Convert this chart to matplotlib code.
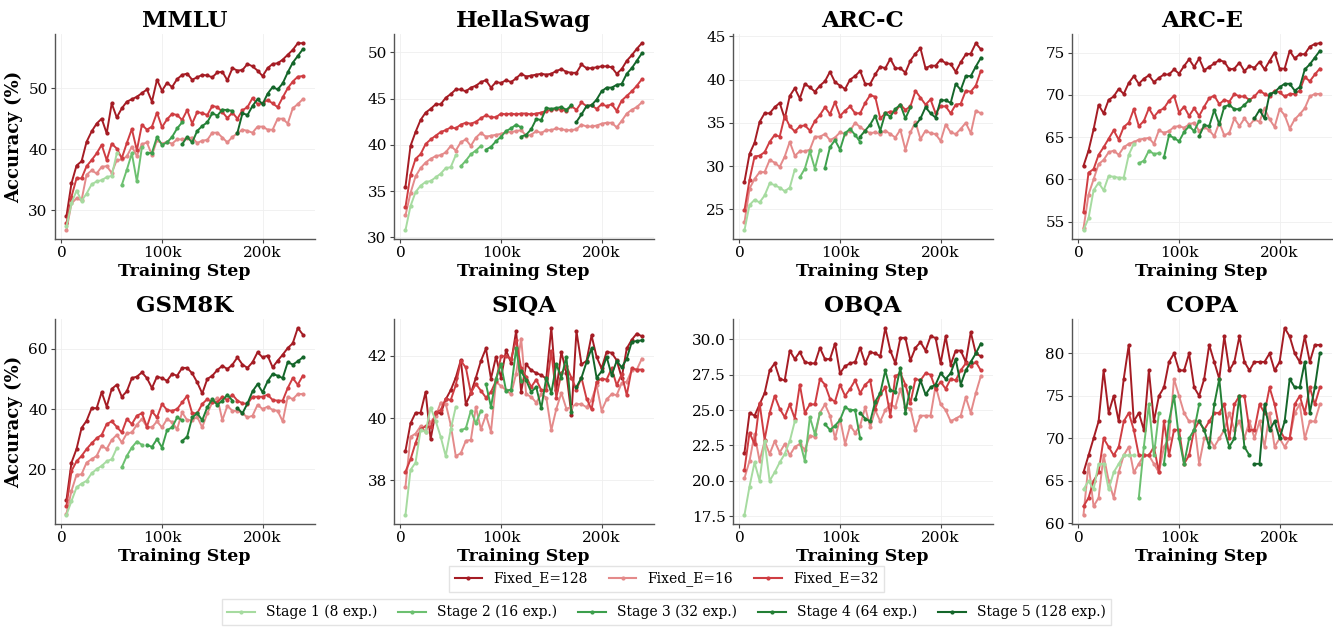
import matplotlib
matplotlib.use("Agg")
import matplotlib.pyplot as plt
from matplotlib.ticker import FuncFormatter
from matplotlib.lines import Line2D

plt.rcParams["font.family"] = ["DejaVu Serif"]

# training steps
fixed_steps = list(range(5000, 240001, 5000))
s1_steps = list(range(5000, 55001, 5000))
s2_steps = list(range(60000, 80001, 5000))
s3_steps = list(range(85000, 120001, 5000))
s4_steps = list(range(120000, 170001, 5000))
s5_steps = list(range(175000, 240001, 5000))

# MMLU
mmlu_e128 = [29.0, 34.4, 37.3, 38.0, 41.2, 42.9, 44.2, 45.0, 42.6, 47.5, 45.2, 46.7, 47.8, 48.2, 48.6, 49.2,
             49.8, 47.8, 51.4, 49.6, 50.9, 50.2, 51.5, 52.2, 52.4, 51.4, 51.8, 52.2, 52.1, 51.8, 52.6, 52.7,
             51.3, 53.3, 52.9, 53.0, 54.0, 53.6, 52.9, 52.0, 53.3, 54.0, 54.1, 54.7, 55.5, 56.3, 57.4, 57.4]
mmlu_e16 = [26.7, 31.1, 31.9, 31.6, 35.8, 36.5, 36.0, 37.1, 37.2, 36.1, 38.2, 38.3, 38.8, 40.4, 38.9, 40.8,
            41.1, 39.0, 41.5, 40.9, 41.2, 40.9, 41.6, 41.6, 41.8, 41.9, 41.0, 41.4, 41.5, 42.7, 42.7, 41.9,
            41.1, 42.0, 42.6, 43.2, 43.0, 42.7, 43.7, 43.7, 43.2, 43.2, 45.0, 45.0, 44.2, 46.7, 47.4, 48.2]
mmlu_e32 = [27.8, 32.2, 35.2, 35.2, 37.2, 38.2, 39.3, 40.7, 38.2, 40.9, 40.1, 38.5, 41.0, 43.3, 39.8, 44.0,
            43.2, 43.7, 46.0, 43.6, 44.9, 45.8, 45.6, 44.8, 46.4, 44.2, 46.1, 45.9, 45.6, 47.1, 46.9, 46.1,
            45.1, 46.0, 45.0, 46.4, 46.9, 48.4, 47.4, 47.5, 48.1, 47.5, 46.9, 48.5, 50.0, 51.1, 51.9, 52.0]
mmlu_s1 = [27.3, 31.1, 33.2, 31.5, 32.7, 34.2, 34.7, 34.9, 35.4, 35.6, 39.3]
mmlu_s2 = [34.1, 36.6, 39.3, 34.7, 40.3]
mmlu_s3 = [39.3, 39.4, 42.0, 40.7, 41.1, 42.0, 43.4, 44.4]
mmlu_s4 = [40.8, 42.0, 41.1, 43.0, 43.8, 44.4, 45.9, 45.5, 46.5, 46.4, 46.3]
mmlu_s5 = [42.7, 45.9, 45.6, 47.1, 48.2, 47.4, 49.1, 50.2, 49.8, 50.8, 52.6, 54.2, 55.3, 56.4]
mmlu_yticks = [30, 40, 50]

# HellaSwag
hs_e128 = [35.5, 39.9, 41.4, 42.7, 43.5, 43.9, 44.4, 44.4, 45.1, 45.5, 46.0, 46.0, 45.8, 46.2, 46.4, 46.8,
           47.0, 46.2, 46.8, 46.7, 47.0, 46.8, 47.2, 47.7, 47.4, 47.5, 47.6, 47.7, 47.6, 47.7, 48.0, 48.2,
           47.9, 47.8, 47.8, 48.7, 48.3, 48.3, 48.4, 48.5, 48.5, 48.4, 47.7, 48.2, 49.1, 49.7, 50.4, 51.0]
hs_e16 = [32.4, 34.8, 36.6, 37.5, 38.1, 38.5, 38.8, 38.9, 39.2, 39.9, 39.4, 40.3, 40.6, 39.9, 40.8, 41.3,
          40.9, 41.0, 41.1, 41.2, 41.4, 41.4, 41.5, 41.6, 41.0, 41.1, 41.5, 41.3, 41.6, 41.6, 41.8, 41.7,
          41.6, 41.6, 41.7, 42.2, 42.0, 42.0, 42.1, 42.3, 42.4, 42.4, 41.9, 42.6, 43.4, 43.8, 44.1, 44.6]
hs_e32 = [33.3, 36.8, 38.5, 39.0, 40.1, 40.6, 41.0, 41.4, 41.6, 41.9, 41.8, 42.2, 42.4, 42.3, 42.5, 42.9,
          43.2, 43.0, 43.0, 43.4, 43.3, 43.4, 43.3, 43.4, 43.4, 43.3, 43.4, 43.5, 43.7, 43.8, 43.9, 43.8,
          43.7, 44.2, 43.8, 44.6, 44.2, 44.3, 43.9, 44.4, 44.2, 44.4, 43.7, 44.8, 45.3, 45.8, 46.4, 47.1]
hs_s1 = [30.8, 33.4, 34.9, 35.6, 36.0, 36.1, 36.5, 36.9, 37.5, 37.6, 38.9]
hs_s2 = [37.7, 38.3, 39.0, 39.4, 39.9]
hs_s3 = [39.5, 39.8, 40.4, 40.9, 41.5, 41.8, 42.2, 41.9]
hs_s4 = [40.9, 41.1, 41.7, 42.8, 42.7, 44.0, 43.9, 44.0, 44.1, 43.8, 44.3]
hs_s5 = [42.5, 43.3, 44.2, 44.3, 44.9, 45.8, 46.2, 46.2, 46.5, 46.6, 47.7, 48.3, 49.1, 49.9]
hs_yticks = [30, 35, 40, 45, 50]

# ARC-C
arcc_e128 = [28.2, 31.4, 32.7, 35.1, 36.1, 36.1, 36.8, 37.3, 35.5, 38.1, 39.0, 37.8, 39.5, 39.1, 38.6, 39.3,
             39.8, 40.9, 39.7, 39.3, 38.9, 40.0, 40.4, 41.0, 39.5, 39.5, 40.6, 41.5, 41.3, 42.4, 41.3, 41.3,
             40.8, 42.2, 43.0, 43.6, 41.3, 41.6, 41.6, 42.3, 41.9, 41.8, 40.9, 42.0, 42.9, 43.0, 44.2, 43.5]
arcc_e16 = [23.5, 27.4, 28.5, 29.3, 29.3, 30.7, 30.4, 29.9, 31.1, 32.8, 31.2, 31.7, 31.7, 31.9, 33.4, 33.4,
            33.7, 33.0, 33.3, 33.9, 33.7, 34.1, 35.0, 34.5, 34.1, 33.8, 33.9, 33.7, 34.1, 33.7, 33.3, 34.2,
            31.9, 33.9, 35.1, 33.1, 34.1, 33.8, 33.7, 32.9, 34.8, 33.9, 33.7, 34.3, 35.0, 33.8, 36.4, 36.1]
arcc_e32 = [24.9, 28.4, 31.1, 31.2, 31.6, 32.8, 33.6, 33.4, 35.8, 34.6, 34.0, 34.6, 34.7, 34.1, 35.2, 35.9,
            36.8, 36.0, 37.4, 35.8, 36.4, 36.9, 36.1, 36.1, 37.3, 38.2, 38.0, 35.5, 36.1, 36.3, 36.3, 37.1,
            36.5, 36.9, 38.7, 37.9, 37.1, 37.7, 36.1, 36.9, 36.9, 36.1, 37.1, 37.2, 38.7, 38.6, 39.3, 41.0]
arcc_s1 = [22.6, 25.5, 26.1, 25.8, 26.6, 28.0, 27.8, 27.5, 27.1, 27.5, 29.6]
arcc_s2 = [28.7, 29.7, 31.7, 29.7, 31.9]
arcc_s3 = [29.8, 32.2, 33.0, 31.9, 33.8, 34.3, 33.6, 32.8]
arcc_s4 = [33.4, 34.1, 34.8, 35.8, 34.1, 36.1, 35.7, 36.6, 37.1, 35.5, 36.8]
arcc_s5 = [34.7, 35.5, 36.8, 36.1, 35.6, 37.6, 37.6, 37.3, 39.5, 38.8, 40.4, 40.4, 41.5, 42.5]
arcc_yticks = [25, 30, 35, 40, 45]

# ARC-E
arce_e128 = [61.6, 63.4, 65.9, 68.8, 67.8, 69.4, 69.8, 70.7, 70.1, 71.4, 72.2, 71.3, 71.9, 72.3, 71.5, 72.0,
             72.4, 72.4, 73.0, 72.5, 73.4, 74.2, 73.3, 74.3, 72.9, 73.3, 73.7, 74.1, 73.9, 73.0, 73.1, 73.8,
             72.8, 73.4, 73.2, 73.9, 73.0, 74.0, 75.0, 73.1, 73.1, 75.2, 74.3, 74.8, 74.8, 75.7, 76.0, 76.1]
arce_e16 = [54.2, 58.2, 60.0, 61.8, 62.3, 63.2, 63.4, 62.9, 63.8, 64.2, 64.4, 64.7, 64.8, 64.9, 64.2, 65.8,
            65.5, 65.7, 66.2, 66.3, 66.1, 66.5, 66.7, 65.7, 66.2, 65.8, 65.1, 66.7, 65.2, 65.5, 67.2, 66.3,
            67.2, 66.4, 67.1, 66.8, 68.4, 67.1, 66.2, 68.3, 67.6, 66.0, 67.1, 67.7, 68.4, 69.8, 70.1, 70.1]
arce_e32 = [56.1, 60.8, 61.2, 62.9, 63.8, 64.8, 65.8, 64.7, 66.2, 66.7, 68.3, 66.3, 66.9, 68.4, 67.4, 68.1,
            68.4, 69.3, 69.9, 67.9, 68.6, 67.5, 68.4, 67.5, 68.6, 69.6, 69.9, 68.9, 69.4, 69.2, 70.1, 69.8,
            69.8, 69.4, 69.8, 70.5, 70.1, 69.8, 70.5, 70.3, 69.8, 70.1, 70.1, 70.5, 72.1, 71.6, 72.4, 73.1]
arce_s1 = [54.0, 55.4, 58.7, 59.6, 58.7, 60.4, 60.3, 60.2, 60.2, 62.9, 64.2]
arce_s2 = [61.9, 62.2, 63.4, 63.0, 63.1]
arce_s3 = [62.6, 65.2, 64.9, 64.5, 65.6, 66.3, 65.7, 66.9]
arce_s4 = [65.1, 66.4, 66.3, 68.2, 66.5, 68.6, 68.8, 68.3, 68.3, 68.8, 69.4]
arce_s5 = [67.2, 68.2, 67.2, 70.1, 70.3, 70.9, 71.3, 71.3, 70.5, 70.9, 73.0, 73.6, 74.4, 75.2]
arce_yticks = [55, 60, 65, 70, 75]

# GSM8K
gsm_e128 = [9.7, 22.2, 26.7, 33.7, 36.1, 40.3, 40.3, 45.6, 40.8, 46.7, 48.1, 44.1, 45.9, 50.3, 50.8, 52.2,
            50.3, 47.0, 50.8, 50.3, 49.4, 51.7, 51.1, 53.7, 53.7, 51.9, 48.9, 45.2, 50.0, 51.1, 53.0, 54.4,
            53.3, 54.8, 57.2, 54.8, 53.7, 55.6, 58.9, 57.2, 57.8, 53.9, 56.1, 58.1, 60.3, 61.9, 67.0, 64.8]
gsm_e16 = [5.2, 12.8, 18.1, 18.3, 22.2, 23.3, 24.4, 27.8, 26.7, 29.7, 31.4, 28.9, 31.9, 32.2, 34.8, 36.7,
           34.1, 33.9, 35.9, 33.9, 36.7, 35.6, 33.3, 38.9, 36.3, 36.3, 37.4, 33.9, 38.6, 42.2, 43.7, 36.3,
           41.1, 39.4, 39.4, 38.6, 37.2, 37.8, 41.4, 40.0, 40.8, 39.7, 39.4, 35.9, 44.1, 43.3, 45.0, 45.0]
gsm_e32 = [7.8, 19.4, 22.6, 24.4, 26.7, 28.6, 30.3, 31.4, 35.0, 35.9, 34.1, 32.2, 36.7, 35.0, 37.8, 38.6,
           34.1, 39.2, 37.2, 41.7, 39.7, 39.4, 40.0, 42.2, 44.4, 38.6, 38.6, 41.7, 43.3, 42.2, 42.2, 44.1,
           43.0, 44.8, 42.8, 41.9, 41.7, 44.1, 44.1, 44.1, 44.8, 43.0, 42.8, 42.8, 47.0, 50.3, 48.1, 51.1]
gsm_s1 = [4.8, 9.4, 13.9, 15.2, 16.1, 18.6, 20.0, 21.1, 22.6, 23.3, 27.0]
gsm_s2 = [20.6, 24.4, 27.2, 29.2, 28.1]
gsm_s3 = [28.1, 27.4, 30.0, 27.2, 33.0, 33.9, 37.2, 36.3]
gsm_s4 = [29.4, 30.8, 37.2, 38.6, 36.3, 40.6, 43.3, 41.4, 42.8, 44.8, 42.8]
gsm_s5 = [40.3, 38.6, 41.9, 45.9, 48.3, 45.6, 49.2, 51.7, 51.1, 50.3, 55.6, 54.8, 55.9, 57.2]
gsm_yticks = [20, 40, 60]

# SIQA
siqa_e128 = [38.95, 39.83, 40.17, 40.17, 40.84, 39.32, 40.2, 40.15, 40.6, 40.9, 41.3, 41.86, 40.45, 40.8,
             41.3, 41.84, 42.24, 41.27, 41.97, 41.3, 42.18, 41.78, 42.8, 40.84, 41.73, 41.54, 41.45, 41.38,
             41.27, 42.9, 40.9, 42.13, 41.45, 40.1, 42.8, 41.73, 41.84, 42.66, 41.97, 41.6, 42.13, 42.1,
             41.86, 41.3, 42.24, 42.52, 42.72, 42.63]
siqa_e16 = [37.8, 39.4, 39.5, 39.74, 39.56, 39.88, 40.06, 40.5, 40.47, 39.78, 38.78, 38.87, 39.27, 39.3,
            40.36, 39.64, 40.1, 39.56, 41.17, 41.03, 40.9, 40.77, 41.43, 42.56, 40.77, 40.68, 40.5, 40.77,
            40.66, 39.61, 40.3, 40.81, 40.3, 40.36, 40.45, 40.45, 40.35, 40.58, 41.06, 40.24, 40.6, 40.77,
            40.74, 41.13, 41.17, 41.54, 41.56, 41.91]
siqa_e32 = [38.28, 38.67, 39.2, 39.64, 39.74, 39.7, 40.17, 40.26, 40.63, 40.58, 41.06, 41.84, 41.63, 40.81,
            41.1, 40.88, 40.66, 40.84, 41.2, 41.99, 41.99, 41.9, 42.52, 41.6, 41.33, 41.0, 41.24, 40.9, 40.9,
            42.16, 40.66, 41.45, 41.67, 41.3, 40.92, 41.3, 40.63, 40.28, 41.17, 41.27, 41.24, 41.6, 41.06,
            41.41, 40.74, 41.6, 41.56, 41.56]
siqa_s1 = [36.89, 38.33, 38.57, 39.61, 39.56, 40.34, 39.91, 39.4, 38.78, 39.64, 40.36]
siqa_s2 = [39.61, 39.67, 40.24, 39.83, 40.24]
siqa_s3 = [41.1, 40.36, 41.27, 41.73, 40.88, 40.92, 42.24, 41.2]
siqa_s4 = [41.5, 41.22, 40.84, 41.0, 40.31, 41.3, 40.81, 41.73, 41.3, 41.97, 40.2]
siqa_s5 = [41.0, 41.3, 41.8, 42.24, 41.3, 41.5, 41.97, 41.38, 41.84, 41.63, 41.91, 42.45, 42.48, 42.5]
siqa_yticks = [38, 40, 42]

# OBQA
obqa_e128 = [22.0, 24.8, 24.6, 25.4, 26.2, 27.8, 28.3, 27.2, 27.1, 29.2, 28.6, 29.1, 28.4, 28.3, 28.3, 29.4,
             28.6, 28.6, 29.7, 27.6, 28.1, 28.3, 28.4, 29.4, 28.3, 29.1, 29.0, 28.8, 30.8, 29.2, 28.3, 30.1,
             30.1, 28.5, 29.4, 29.8, 29.2, 30.2, 30.1, 28.3, 30.2, 28.2, 29.2, 29.2, 28.4, 30.5, 29.0, 28.8]
obqa_e16 = [20.2, 21.4, 23.3, 21.4, 22.8, 21.9, 22.8, 22.0, 22.6, 21.8, 22.4, 22.6, 22.2, 23.2, 23.1, 24.8,
            25.4, 24.6, 23.0, 24.4, 22.6, 23.9, 23.4, 23.9, 25.2, 23.8, 25.0, 24.2, 25.0, 25.4, 25.2, 26.5,
            25.2, 25.1, 23.6, 24.6, 24.6, 24.6, 26.7, 25.4, 25.0, 24.2, 24.4, 24.6, 25.9, 24.8, 26.2, 27.4]
obqa_e32 = [20.8, 23.4, 22.6, 25.5, 22.9, 24.8, 26.0, 25.1, 24.5, 25.4, 24.4, 26.8, 24.8, 25.4, 25.4, 27.2,
            26.8, 25.8, 25.6, 26.8, 26.0, 26.5, 27.1, 26.2, 26.8, 27.1, 25.1, 26.1, 26.6, 24.6, 27.4, 27.6,
            26.8, 25.5, 27.2, 27.1, 27.6, 27.5, 26.5, 27.0, 26.5, 27.2, 27.1, 27.8, 28.3, 28.1, 28.4, 27.8]
obqa_s1 = [17.6, 19.6, 21.3, 20.0, 22.8, 20.0, 20.6, 21.3, 21.9, 22.8, 24.2]
obqa_s2 = [22.8, 21.4, 24.5, 23.3, 24.8]
obqa_s3 = [24.0, 23.6, 23.9, 24.3, 25.2, 25.0, 25.0, 23.0]
obqa_s4 = [24.8, 24.4, 24.2, 25.6, 26.2, 27.8, 26.4, 26.3, 28.0, 24.8, 26.6]
obqa_s5 = [25.8, 27.1, 26.1, 26.6, 26.8, 27.6, 27.2, 27.6, 28.6, 26.8, 27.8, 28.4, 29.0, 29.7]
obqa_yticks = [17.5, 20.0, 22.5, 25.0, 27.5, 30.0]

# COPA
copa_e128 = [66, 68, 70, 72, 78, 73, 75, 72, 77, 81, 72, 73, 71, 78, 72, 75, 76, 79, 80, 78, 78, 80, 76, 75,
             77, 81, 79, 77, 82, 78, 79, 82, 79, 78, 79, 79, 79, 80, 78, 79, 83, 82, 80, 79, 82, 79, 81, 81]
copa_e16 = [61, 67, 62, 63, 68, 65, 63, 66, 68, 69, 66, 67, 68, 68, 67, 66, 69, 70, 77, 75, 73, 72, 72, 67,
            70, 70, 69, 70, 71, 73, 71, 72, 70, 72, 70, 72, 69, 73, 69, 70, 69, 70, 73, 74, 70, 72, 72, 74]
copa_e32 = [62, 63, 65, 66, 70, 69, 68, 69, 72, 73, 71, 68, 68, 68, 69, 66, 72, 68, 71, 71, 67, 68, 71, 72,
            71, 72, 73, 73, 74, 70, 74, 75, 75, 71, 71, 74, 73, 76, 74, 71, 70, 70, 74, 75, 73, 76, 74, 76]
copa_s1 = [64, 65, 64, 67, 67, 64, 66, 67, 68, 68, 68]
copa_s2 = [63, 69, 74, 68, 73]
copa_s3 = [67, 72, 75, 70, 67, 70, 71, 74]
copa_s4 = [72, 71, 69, 74, 77, 71, 69, 70, 75, 69, 68]
copa_s5 = [67, 67, 74, 71, 72, 70, 72, 77, 76, 76, 79, 73, 76, 80]
copa_yticks = [60, 65, 70, 75, 80]

titles = ["MMLU", "HellaSwag", "ARC-C", "ARC-E", "GSM8K", "SIQA", "OBQA", "COPA"]
fixed_labels = ["Fixed_E=128", "Fixed_E=16", "Fixed_E=32"]
stage_labels = ["Stage 1 (8 exp.)", "Stage 2 (16 exp.)", "Stage 3 (32 exp.)",
                "Stage 4 (64 exp.)", "Stage 5 (128 exp.)"]

fixed_colors = ["#a51c24", "#e48a8a", "#cf3d42"]
stage_colors = ["#a6dba0", "#6cc070", "#3c9f4c", "#237f35", "#14662a"]

panels = [
    ([mmlu_e128, mmlu_e16, mmlu_e32], [mmlu_s1, mmlu_s2, mmlu_s3, mmlu_s4, mmlu_s5], mmlu_yticks),
    ([hs_e128, hs_e16, hs_e32], [hs_s1, hs_s2, hs_s3, hs_s4, hs_s5], hs_yticks),
    ([arcc_e128, arcc_e16, arcc_e32], [arcc_s1, arcc_s2, arcc_s3, arcc_s4, arcc_s5], arcc_yticks),
    ([arce_e128, arce_e16, arce_e32], [arce_s1, arce_s2, arce_s3, arce_s4, arce_s5], arce_yticks),
    ([gsm_e128, gsm_e16, gsm_e32], [gsm_s1, gsm_s2, gsm_s3, gsm_s4, gsm_s5], gsm_yticks),
    ([siqa_e128, siqa_e16, siqa_e32], [siqa_s1, siqa_s2, siqa_s3, siqa_s4, siqa_s5], siqa_yticks),
    ([obqa_e128, obqa_e16, obqa_e32], [obqa_s1, obqa_s2, obqa_s3, obqa_s4, obqa_s5], obqa_yticks),
    ([copa_e128, copa_e16, copa_e32], [copa_s1, copa_s2, copa_s3, copa_s4, copa_s5], copa_yticks),
]
stage_steps = [s1_steps, s2_steps, s3_steps, s4_steps, s5_steps]


def kfmt(v, pos):
    return "0" if v == 0 else f"{int(round(v / 1000))}k"


fig, axes = plt.subplots(2, 4, figsize=(13.33, 6.27), dpi=100)
plt.subplots_adjust(left=0.041, right=0.999, top=0.946, bottom=0.164, wspace=0.304, hspace=0.385)

for i, (ax, title, (fixed, stages, yt)) in enumerate(zip(axes.flat, titles, panels)):
    for vals, c in zip(fixed, fixed_colors):
        ax.plot(fixed_steps, vals, color=c, lw=1.4, marker="o", ms=2.0)
    for xs, vals, c in zip(stage_steps, stages, stage_colors):
        ax.plot(xs, vals, color=c, lw=1.4, marker="o", ms=2.0)
    ax.set_title(title, fontsize=16.5, fontweight="bold", pad=5)
    ax.set_xlabel("Training Step", fontsize=12.5, fontweight="bold", labelpad=2)
    if i % 4 == 0:
        ax.set_ylabel("Accuracy (%)", fontsize=13, fontweight="bold")
    ax.set_xticks([0, 100000, 200000])
    ax.set_yticks(yt)
    ax.xaxis.set_major_formatter(FuncFormatter(kfmt))
    ax.tick_params(labelsize=11, length=3, width=0.8, color="#444444", pad=2)
    ax.grid(True, color="#efefef", lw=0.6)
    ax.set_axisbelow(True)
    for s in ["top", "right"]:
        ax.spines[s].set_visible(False)
    for s in ["left", "bottom"]:
        ax.spines[s].set_color("#555555")
        ax.spines[s].set_linewidth(1.0)

fixed_handles = [Line2D([], [], color=c, lw=1.5, marker="o", ms=2) for c in fixed_colors]
stage_handles = [Line2D([], [], color=c, lw=1.5, marker="o", ms=2) for c in stage_colors]

fig.legend(fixed_handles, fixed_labels, loc="center", bbox_to_anchor=(0.5, 0.0766), ncol=3,
           fontsize=10, frameon=True, fancybox=False, edgecolor="#dddddd",
           handlelength=2.0, columnspacing=1.5, borderpad=0.4)
fig.legend(stage_handles, stage_labels, loc="upper center", bbox_to_anchor=(0.5, 0.055), ncol=5,
           fontsize=10, frameon=True, fancybox=False, edgecolor="#dddddd",
           handlelength=2.0, columnspacing=1.5, borderpad=0.4)

fig.savefig("out.png", dpi=100)
